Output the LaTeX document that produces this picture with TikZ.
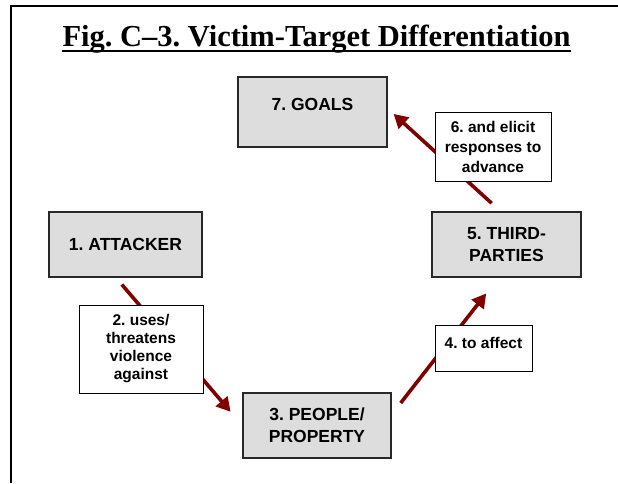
\documentclass[tikz,border=0pt]{standalone}
\usepackage{fontspec}
\setmainfont{Liberation Serif}
\newfontfamily\arialfont{Liberation Sans}
\usetikzlibrary{arrows.meta}
\definecolor{arrowred}{RGB}{128,0,0}
\definecolor{boxgray}{RGB}{221,221,221}
\definecolor{boxline}{RGB}{40,40,40}
\frenchspacing
\tikzset{
  stage/.style={draw=boxline,line width=1.4pt,fill=boxgray,align=center,inner sep=0pt,
    font=\arialfont\bfseries\fontsize{17.5}{22}\selectfont},
  verb/.style={draw=black,line width=0.9pt,fill=white,align=center,inner sep=0pt,
    font=\arialfont\bfseries\fontsize{15.5}{18}\selectfont},
  flow/.style={draw=arrowred,line width=3.6pt,-{Triangle[length=14pt,width=15pt]}}
}
\begin{document}
\begin{tikzpicture}[x=1pt,y=-1pt]
    \useasboundingbox (0,0) rectangle (618,483);
    \draw [line width=2pt] (11,483) -- (11,6) -- (618,6);
    \node (title) [inner sep=0pt,anchor=base] at (316.5,46) {\bfseries\fontsize{30.5}{36}\selectfont Fig. C--3. Victim-Target Differentiation};
    \draw [line width=2pt] ([yshift=-5pt]title.base west) -- ([yshift=-5pt]title.base east);
    \node (goals) [stage,minimum width=149pt,minimum height=70pt,text depth=15pt] at (312.5,112) {7. GOALS};
    \node (attacker) [stage,minimum width=153pt,minimum height=65pt] at (125.5,244.5) {1. ATTACKER};
    \node (people) [stage,minimum width=148pt,minimum height=65pt] at (317,425.5) {3. PEOPLE/\\PROPERTY};
    \node (third) [stage,minimum width=149pt,minimum height=65pt] at (506.5,244.5) {5. THIRD-\\PARTIES};
    \draw [flow,shorten <=9pt,shorten >=18pt] ([xshift=-9.5pt]attacker.south) -- (people.west);
    \draw [flow,shorten <=14.6pt,shorten >=20pt] ([yshift=11pt]people.east) -- ([xshift=-8pt]third.south);
    \draw [flow,shorten <=12pt,shorten >=8pt] ([xshift=-6pt]third.north) -- ([yshift=3.5pt]goals.east);
    \node (uses) [verb,minimum width=124pt,minimum height=88pt] at (141,349) {2. uses/\\threatens\\violence\\against};
    \node (affect) [verb,minimum width=97pt,minimum height=46pt,text depth=10pt] at (483.5,348) {4. to affect};
    \node (elicit) [verb,minimum width=116pt,minimum height=69pt,font=\arialfont\bfseries\fontsize{15.5}{20}\selectfont] at (493,146.5) {6. and elicit\\responses to\\advance};
\end{tikzpicture}
\end{document}
